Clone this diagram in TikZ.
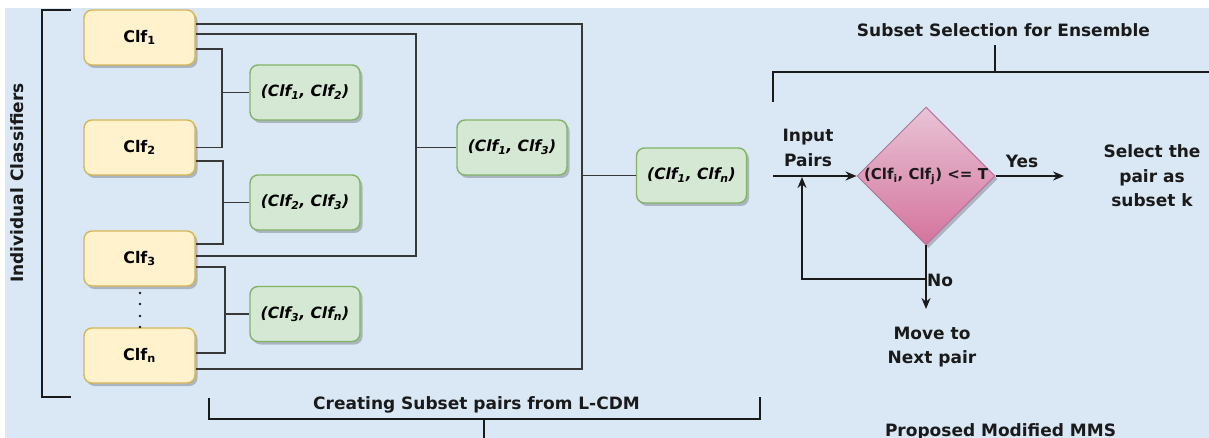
\documentclass[tikz,border=0pt]{standalone}
\usepackage{fontspec}
\setmainfont{DejaVu Sans}
\usetikzlibrary{arrows.meta,shadows,shapes.geometric}
\definecolor{bgblue}{HTML}{DAE8F5}
\definecolor{yfill}{HTML}{FFF2CC}
\definecolor{ydraw}{HTML}{D6B656}
\definecolor{gfill}{HTML}{D5E8D4}
\definecolor{gdraw}{HTML}{82B366}
\definecolor{ptop}{HTML}{E8C4D6}
\definecolor{pbot}{HTML}{D5739D}
\definecolor{pdraw}{HTML}{B5739D}
\definecolor{lin}{HTML}{383838}
\definecolor{brk}{HTML}{1A1A1A}
\newcommand{\lsub}[1]{\textsubscript{#1}}
\tikzset{
  shad/.style={drop shadow={shadow xshift=2.5pt,shadow yshift=-3pt,fill=black,opacity=0.22}},
  clfbox/.style={shad,draw=ydraw,fill=yfill,rounded corners=8pt,line width=1.4pt,
    minimum width=111pt,minimum height=55pt,inner sep=0pt,
    font=\bfseries\fontsize{16}{18}\selectfont},
  pairbox/.style={shad,draw=gdraw,fill=gfill,rounded corners=8pt,line width=1.4pt,
    minimum width=110pt,minimum height=55pt,inner sep=0pt,
    font=\bfseries\itshape\fontsize{15.5}{18}\selectfont},
  conn/.style={draw=lin,line width=1.7pt},
  brkline/.style={draw=brk,line width=2.2pt},
  arr/.style={draw=brk,line width=1.6pt,-{Stealth[length=11pt,width=9pt]}},
  lbl/.style={font=\bfseries\fontsize{17}{24.5}\selectfont,text=brk,inner sep=0pt,align=center},
}
\begin{document}
\begin{tikzpicture}[x=1pt,y=-1pt]
\useasboundingbox (0,0) rectangle (1209,438);
\fill[white] (0,0) rectangle (1209,438);
\fill[bgblue] (5,8) rectangle (1209,438);

% classifiers
\node[clfbox] (c1) at (139.5,37.5) {Clf\lsub{1}};
\node[clfbox] (c2) at (139.5,147.5) {Clf\lsub{2}};
\node[clfbox] (c3) at (139.5,258.5) {Clf\lsub{3}};
\node[clfbox] (cn) at (139.5,355.5) {Clf\lsub{n}};
\foreach \yy in {293,304,316,327} \fill[brk] (140,\yy) circle (1.3pt);

% pairs
\node[pairbox] (p12) at (305,92.5) {(Clf\lsub{1}, Clf\lsub{2})};
\node[pairbox] (p23) at (305,202.5) {(Clf\lsub{2}, Clf\lsub{3})};
\node[pairbox] (p3n) at (305,314) {(Clf\lsub{3}, Clf\lsub{n})};
\node[pairbox] (p13) at (512,147.5) {(Clf\lsub{1}, Clf\lsub{3})};
\node[pairbox] (p1n) at (691.5,175.5) {(Clf\lsub{1}, Clf\lsub{n})};

% junction coordinates
\coordinate (b1) at (582,175.5);
\coordinate (b2) at (416,147.5);
\coordinate (b3) at (222,92.5);
\coordinate (b4) at (223,202.5);
\coordinate (b5) at (225,314);

\draw[conn] ([yshift=13.5pt]c1.east) -| (b1) |- ([yshift=-13.5pt]cn.east);
\draw[conn] (b1) -- (p1n.west);
\draw[conn] ([yshift=3.5pt]c1.east) -| (b2) |- ([yshift=2.5pt]c3.east);
\draw[conn] (b2) -- (p13.west);
\draw[conn] ([yshift=-11.5pt]c1.east) -| (b3) |- (c2.east);
\draw[conn] (b3) -- (p12.west);
\draw[conn] ([yshift=-13.5pt]c2.east) -| (b4) |- ([yshift=14.5pt]c3.east);
\draw[conn] (b4) -- (p23.west);
\draw[conn] ([yshift=-8.5pt]c3.east) -| (b5) |- ([yshift=2.5pt]cn.east);
\draw[conn] (b5) -- (p3n.west);

% left bracket
\draw[brkline] (71,10) -- (42,10) -- (42,397) -- (71,397);
\node[lbl,rotate=90] (lab1) at (17,183) {Individual Classifiers};

% bottom bracket
\draw[brkline] (209,398) -- (209,419) -- (760,419) -- (760,397);
\draw[brkline] (484,419) -- (484,442);
\node[lbl] (lab2) at (476.5,405) {Creating Subset pairs from L-CDM};

% right bracket
\node[lbl] (lab3) at (1003.5,30) {Subset Selection for Ensemble};
\draw[brkline] (995,45) -- (995,72);
\draw[brkline] (773,102) -- (773,72) -- (1212,72);

% decision
\node[diamond,shad,draw=pdraw,line width=1pt,top color=ptop,bottom color=pbot,
      minimum width=138pt,minimum height=138pt,inner sep=0pt] (dec) at (926,176) {};
\node[font=\bfseries\fontsize{15}{16}\selectfont,text=brk,inner sep=0pt] (dtxt) at (926,176) {(Clf\lsub{i}, Clf\lsub{j}) <= T};

\coordinate (inp) at (773,176);
\coordinate (down) at (926,309);
\coordinate (nob) at (926,279);
\coordinate (loopup) at (802,177);
\coordinate (yesend) at (1064,176);
\draw[arr] (inp) -- (dec.west);
\draw[arr] (dec.south) -- (down);
\draw[arr] (nob) -| (loopup);
\draw[arr] (dec.east) -- (yesend);

\node[lbl] (inl) at (808,148) {Input\\Pairs};
\node[lbl] (yes) at (1022,161) {Yes};
\node[lbl,anchor=west] (no) at (927,280) {No};
\node[lbl] (sel) at (1152,176) {Select the\\pair as\\subset k};
\node[lbl] (mv) at (932,347) {Move to\\Next pair};
\node[lbl,anchor=base] (prop) at (1000.5,436) {Proposed Modified MMS};
\end{tikzpicture}
\end{document}
